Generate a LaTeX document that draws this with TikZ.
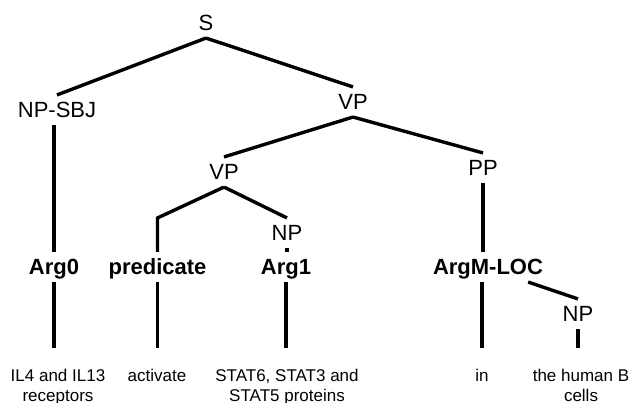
\documentclass[tikz,border=0pt]{standalone}
\usepackage{fontspec}
\setmainfont{Liberation Sans}
\usetikzlibrary{positioning, calc}

\begin{document}
\begin{tikzpicture}[
    x=1pt, y=-1pt,
    % Phrase labels
    phrase/.style={
        inner xsep=2pt,
        inner ysep=7pt,
        text height=15.7pt,
        text depth=0pt,
        font=\fontsize{22}{26}\selectfont
    },
    % Argument labels
    argbox/.style={
        phrase,
        font=\fontsize{22}{26}\selectfont\bfseries
    },
    % Words at the leaves
    leaf/.style={
        anchor=north,
        align=center,
        inner xsep=0pt,
        inner ysep=21pt,
        font=\fontsize{17}{20}\selectfont
    },
    % Tree edges
    edge/.style={
        line width=3.4pt,
        black
    }
]
\useasboundingbox (0,0) rectangle (629,402);

% === Phrase structure ===
\node[phrase] (s) at (206, 23) {S};
\node[phrase] (npsbj) at (57, 110) {NP-SBJ};
\node[phrase] (vp) at (353, 102) {VP};
\node[phrase] (vpl) at (224, 172) {VP};
\node[phrase] (pp) at (483, 168) {PP};
\node[phrase] (npa) at (287, 233) {NP};
\node[phrase] (npb) at (578, 314) {NP};

% === Semantic roles ===
\node[argbox] (arg0) at (54, 267) {Arg0};
\node[argbox] (pred) at (157.5, 267) {predicate};
\node[argbox] (arg1) at (286, 267) {Arg1};
\node[argbox] (argmloc) at (488, 267) {ArgM-LOC};

% === Words ===
\node[leaf] (w0) at (58, 348) {IL4 and IL13\\receptors};
\node[leaf] (wpred) at (157, 348) {activate};
\node[leaf] (w1) at (287, 348) {STAT6, STAT3 and\\STAT5 proteins};
\node[leaf] (win) at (482, 348) {in};
\node[leaf] (w2) at (581, 348) {the human B\\cells};

% === Edges ===
\draw[edge] (s.south) -- (npsbj.north);
\draw[edge] (s.south) -- (vp.north);
\draw[edge] (arg0.north |- npsbj.south) -- (arg0.north);
\draw[edge] (vp.south) -- (vpl.north);
\draw[edge] (vp.south) -- (pp.north);
\draw[edge] (vpl.south) -- (pred.north |- npa.north) -- (pred.north);
\draw[edge] (vpl.south) -- (npa.north);
\draw[edge] (npa.south) -- (npa.south |- arg1.north);
\draw[edge] (pp.south) -- (pp.south |- argmloc.north);
\draw[edge] ([xshift=-17pt]argmloc.south east) -- (npb.north);

\draw[edge] (arg0.south) -- (arg0.south |- w0.north);
\draw[edge] (pred.south) -- (pred.south |- wpred.north);
\draw[edge] (arg1.south) -- (arg1.south |- w1.north);
\draw[edge] (win.north |- argmloc.south) -- (win.north);
\draw[edge] (npb.south) -- (npb.south |- w2.north);

\end{tikzpicture}
\end{document}
